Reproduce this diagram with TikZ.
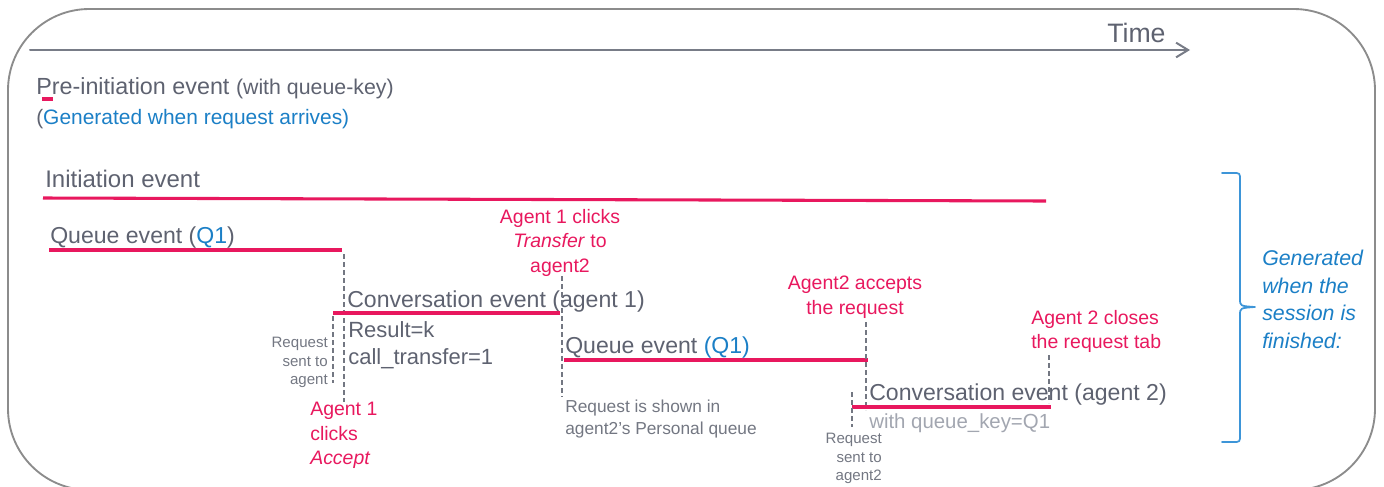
\documentclass[tikz,border=0pt]{standalone}
\usepackage{fontspec}
\setmainfont{Liberation Sans}
\usepackage[usenames]{xcolor}
\usepackage{tikz}
\usetikzlibrary{arrows.meta}
\definecolor{evpink}{HTML}{E8185E}
\definecolor{txtgray}{HTML}{5E6270}
\definecolor{notegray}{HTML}{737782}
\definecolor{qkgray}{HTML}{A2A6B0}
\definecolor{keyblue}{HTML}{1B7FC6}
\definecolor{braceblue}{HTML}{3D95D8}
\definecolor{framegray}{HTML}{8C8C8C}
\definecolor{axisgray}{HTML}{787C87}

\begin{document}
\begin{tikzpicture}[line cap=round,line join=round,x=0.75pt,y=-0.75pt,
  >={Straight Barb[length=9pt,width=11pt]},
  evline/.style={evpink,line width=2.3pt,line cap=butt},
  tick/.style={notegray,line width=0.8pt,line cap=butt,dash pattern=on 3.5pt off 2.5pt},
  lbl/.style={inner sep=0pt,text=txtgray,font=\fontsize{17.3}{20}\selectfont},
  pinklbl/.style={inner sep=0pt,text=evpink,font=\fontsize{14.6}{18.3}\selectfont},
  note/.style={inner sep=0pt,text=notegray,font=\fontsize{11.3}{13.9}\selectfont,align=right}]
\useasboundingbox (0,0) rectangle (1384,486);
\clip (0,0) rectangle (1384,486);
\draw[framegray,line width=1.4pt,rounded corners=61pt] (8,9) rectangle (1375,490);
% time axis
\node[lbl,anchor=base west,font=\fontsize{20}{24}\selectfont] (time) at (1107,42) {Time};
\coordinate (t0) at (30,50);
\coordinate (t1) at (1190,50);
\draw[->,axisgray,line width=1.5pt] (t0) -- (t1);
% pre-initiation
\node[lbl,anchor=base west,font=\fontsize{17.5}{20}\selectfont] (preinit) at (36,94) {Pre-initiation event {\fontsize{16}{20}\selectfont(with queue-key)}};
\coordinate (pm0) at (42,99);
\coordinate (pm1) at (53,99);
\draw[evpink,line width=2.5pt,line cap=butt] (pm0) -- (pm1);
\node[lbl,anchor=base west,font=\fontsize{15.7}{19}\selectfont] (pregen) at (36,124) {(\textcolor{keyblue}{Generated when request arrives)}};
% initiation
\node[lbl,anchor=base west,font=\fontsize{18}{20}\selectfont] (init) at (45,187) {Initiation event};
\coordinate (in0) at (43,198);
\coordinate (in1) at (1046,201);
\draw[evline] (in0) -- (in1);
% first queue
\node[lbl,anchor=base west] (queue1) at (50,243) {Queue event (\textcolor{keyblue}{Q1})};
\coordinate (qa0) at (49,250);
\coordinate (qa1) at (342,250);
\draw[evline] (qa0) -- (qa1);
\coordinate (acc0) at (344,254);
\coordinate (acc1) at (344,402);
\draw[tick] (acc0) -- (acc1);
% conversation agent 1
\node[lbl,anchor=base west] (conv1) at (347,307) {Conversation event (agent 1)};
\coordinate (ca0) at (333,313);
\coordinate (ca1) at (560,313);
\draw[evline] (ca0) -- (ca1);
\coordinate (snt0) at (333,316);
\coordinate (snt1) at (333,383);
\draw[tick] (snt0) -- (snt1);
\node[lbl,anchor=north west,align=left,font=\fontsize{16.5}{20.2}\selectfont] (conv1res) at (348,321) {Result=k\\call\_transfer=1};
\node[note,anchor=north east] (sent1) at (328,337) {Request\\sent to\\agent};
\node[pinklbl,anchor=north west,align=left] (accept) at (310,402) {Agent 1\\clicks\\\textit{Accept}};
\node[pinklbl,anchor=north,align=center] (xfer) at (560,209) {Agent 1 clicks\\\textit{Transfer} to\\agent2};
\coordinate (xf0) at (562,276);
\coordinate (xf1) at (562,397);
\draw[tick] (xf0) -- (xf1);
% second queue
\node[lbl,anchor=base west] (queue2) at (565,353) {Queue event \textcolor{keyblue}{(Q1)}};
\coordinate (qb0) at (564,360);
\coordinate (qb1) at (868,360);
\draw[evline] (qb0) -- (qb1);
\node[inner sep=0pt,anchor=north west,align=left,text=notegray,font=\fontsize{13}{16.5}\selectfont] (shown) at (565,400) {Request is shown in\\agent2's Personal queue};
\node[pinklbl,anchor=north,align=center] (acc2) at (855,276) {Agent2 accepts\\the request};
\coordinate (ac0) at (866,322);
\coordinate (ac1) at (866,410);
\draw[tick] (ac0) -- (ac1);
% conversation agent 2
\node[lbl,anchor=base west] (conv2) at (869,400) {Conversation event (agent 2)};
\coordinate (cb0) at (852,407);
\coordinate (cb1) at (1051,407);
\draw[evline] (cb0) -- (cb1);
\node[inner sep=0pt,anchor=base west,text=qkgray,font=\fontsize{15.3}{18}\selectfont] (qkey) at (869,428) {with queue\_key=Q1};
\coordinate (sn0) at (852,392);
\coordinate (sn1) at (852,427);
\draw[tick] (sn0) -- (sn1);
\node[note,anchor=north east] (sent2) at (882,433) {Request\\sent to\\agent2};
\node[pinklbl,anchor=north west,align=left] (close2) at (1031,310) {Agent 2 closes\\the request tab};
\coordinate (cl0) at (1049,355);
\coordinate (cl1) at (1049,403);
\draw[tick] (cl0) -- (cl1);
% brace
\coordinate (brt) at (1222,173);
\coordinate (brm) at (1255,307);
\coordinate (brb) at (1222,442);
\draw[braceblue,line width=1.3pt] (brt) -- (1233,173) .. controls (1240,173) .. (1240,180) -- (1240,299) .. controls (1240,306) .. (brm) .. controls (1240,308) .. (1240,315) -- (1240,435) .. controls (1240,442) .. (1233,442) -- (brb);
\node[inner sep=0pt,anchor=north west,align=left,text=keyblue,font=\fontsize{16}{20.6}\selectfont\itshape] (sessgen) at (1262,250) {Generated\\when the\\session is\\finished:};
\end{tikzpicture}
\end{document}
